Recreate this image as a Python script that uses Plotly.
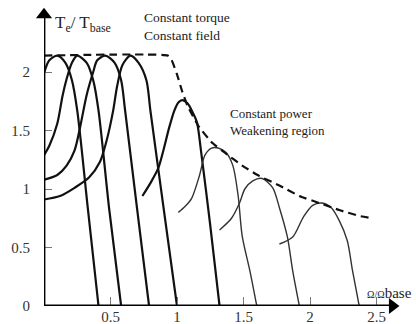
import plotly.graph_objects as go

# ---- data (x = Omega/Omega_base, y = Te/Tbase) ----
c1_x = [0.00, 0.04, 0.10, 0.16, 0.21, 0.25, 0.33, 0.41]
c1_y = [1.99, 2.10, 2.14, 2.08, 1.93, 1.67, 0.83, 0.00]

c2_x = [0.00, 0.04, 0.10, 0.14, 0.17, 0.21, 0.25, 0.32, 0.37, 0.41, 0.49, 0.58]
c2_y = [1.29, 1.37, 1.56, 1.80, 1.94, 2.08, 2.14, 2.08, 1.93, 1.67, 0.83, 0.00]

c3_x = [0.00, 0.10, 0.17, 0.23, 0.27, 0.32, 0.37, 0.40, 0.46, 0.53, 0.58, 0.61, 0.70, 0.79]
c3_y = [1.08, 1.12, 1.20, 1.33, 1.52, 1.80, 2.00, 2.10, 2.14, 2.08, 1.93, 1.67, 0.83, 0.00]

c4_x = [0.00, 0.12, 0.23, 0.34, 0.42, 0.47, 0.52, 0.55, 0.59, 0.65, 0.71, 0.77, 0.80, 0.90, 1.00]
c4_y = [0.91, 0.94, 1.01, 1.10, 1.23, 1.41, 1.67, 1.88, 2.06, 2.14, 2.08, 1.93, 1.67, 0.83, 0.00]

c5_x = [0.74, 0.80, 0.86, 0.90, 0.94, 0.98, 1.01, 1.04, 1.08, 1.12, 1.15, 1.18, 1.25, 1.32]
c5_y = [0.94, 1.05, 1.18, 1.34, 1.52, 1.67, 1.74, 1.76, 1.73, 1.65, 1.57, 1.33, 0.69, 0.00]

c6_x = [1.01, 1.06, 1.11, 1.17, 1.21, 1.26, 1.31, 1.37, 1.42, 1.46, 1.49, 1.55, 1.60]
c6_y = [0.80, 0.85, 0.92, 1.12, 1.29, 1.35, 1.35, 1.31, 1.20, 0.94, 0.60, 0.29, 0.00]

c7_x = [1.32, 1.41, 1.47, 1.51, 1.57, 1.64, 1.72, 1.77, 1.83, 1.87, 1.92]
c7_y = [0.65, 0.75, 0.88, 1.00, 1.07, 1.09, 1.01, 0.84, 0.59, 0.30, 0.00]

c8_x = [1.77, 1.87, 1.95, 2.02, 2.09, 2.16, 2.22, 2.28, 2.32, 2.37]
c8_y = [0.53, 0.59, 0.76, 0.86, 0.88, 0.84, 0.73, 0.56, 0.30, 0.00]

env_x = [0.00, 0.93, 0.96, 1.00, 1.04, 1.08, 1.16, 1.26, 1.36, 1.49, 1.62, 1.77, 1.92, 2.07, 2.22, 2.37, 2.47]
env_y = [2.14, 2.14, 2.10, 1.98, 1.83, 1.71, 1.54, 1.40, 1.31, 1.20, 1.11, 1.03, 0.94, 0.88, 0.82, 0.77, 0.75]

x_ticks = [0.5, 1, 1.5, 2, 2.5]
x_tick_text = ["0.5", "1", "1.5", "2", "2.5"]
y_ticks = [0, 0.5, 1, 1.5, 2]
y_tick_text = ["0", "0.5", "1", "1.5", "2"]

X_END = 2.60   # end of x-axis shaft
Y_END = 2.47   # end of y-axis shaft

SERIF = "Liberation Serif"
fig = go.Figure()

bold = [(c1_x, c1_y), (c2_x, c2_y), (c3_x, c3_y), (c4_x, c4_y), (c5_x, c5_y)]
thin = [(c6_x, c6_y), (c7_x, c7_y), (c8_x, c8_y)]
for xs, ys in bold:
    fig.add_trace(go.Scatter(x=xs, y=ys, mode="lines",
                             line=dict(color="#111", width=2.2, shape="spline", smoothing=0.8),
                             showlegend=False, hoverinfo="skip"))
for xs, ys in thin:
    fig.add_trace(go.Scatter(x=xs, y=ys, mode="lines",
                             line=dict(color="#333", width=1.4, shape="spline", smoothing=0.8),
                             showlegend=False, hoverinfo="skip"))
fig.add_trace(go.Scatter(x=env_x, y=env_y, mode="lines",
                         line=dict(color="#111", width=2.2, dash="8px,5px", shape="spline", smoothing=0.4),
                         showlegend=False, hoverinfo="skip"))

# axis shafts
fig.add_shape(type="line", xref="x", yref="y", x0=0, y0=0, x1=X_END, y1=0,
              line=dict(color="#000", width=2.8))
fig.add_shape(type="line", xref="x", yref="y", x0=0, y0=0, x1=0, y1=Y_END,
              line=dict(color="#000", width=2.8))
# arrow heads
fig.add_trace(go.Scatter(x=[X_END + 0.02], y=[0], mode="markers", cliponaxis=False,
                         marker=dict(symbol="triangle-right", size=14, color="#000"),
                         showlegend=False, hoverinfo="skip"))
fig.add_trace(go.Scatter(x=[0], y=[Y_END + 0.02], mode="markers", cliponaxis=False,
                         marker=dict(symbol="triangle-up", size=14, color="#000"),
                         showlegend=False, hoverinfo="skip"))

# texts
fig.add_annotation(x=0.066, y=2.41, xref="x", yref="y", xanchor="left", yanchor="middle",
                   text="T<sub>e</sub>/ T<sub>base</sub>", showarrow=False,
                   font=dict(family=SERIF, size=17, color="#222"))
fig.add_annotation(x=0.735, y=2.39, xref="x", yref="y", xanchor="left", yanchor="middle",
                   text="Constant torque<br>Constant field", showarrow=False, align="left",
                   font=dict(family=SERIF, size=13.5, color="#222"))
fig.add_annotation(x=1.385, y=1.57, xref="x", yref="y", xanchor="left", yanchor="middle",
                   text="Constant power<br>Weakening region", showarrow=False, align="left",
                   font=dict(family=SERIF, size=13, color="#222"))
fig.add_annotation(x=2.41, y=0.107, xref="x", yref="y", xanchor="left", yanchor="middle",
                   text="<span style='font-size:10px'>Ω/Ω</span>base", showarrow=False,
                   font=dict(family=SERIF, size=15, color="#222"))

fig.update_xaxes(range=[0, 356 / 133], showline=False, zeroline=False, showgrid=False,
                 tickvals=x_ticks, ticktext=x_tick_text, ticks="inside", ticklen=9,
                 tickwidth=1.2, tickcolor="#777", tickfont=dict(family=SERIF, size=15, color="#333"),
                 ticklabelstandoff=0, automargin=False, fixedrange=True)
fig.update_yaxes(range=[0, 298 / 117], showline=False, zeroline=False, showgrid=False,
                 tickvals=y_ticks, ticktext=y_tick_text, ticks="inside", ticklen=8,
                 tickwidth=1.2, tickcolor="#777", tickfont=dict(family=SERIF, size=15, color="#333"),
                 ticklabelstandoff=13, automargin=False, fixedrange=True)

fig.update_layout(width=416, height=324, margin=dict(l=44, r=16, t=8, b=18),
                  plot_bgcolor="white", paper_bgcolor="white")

fig.write_html("out.html")
